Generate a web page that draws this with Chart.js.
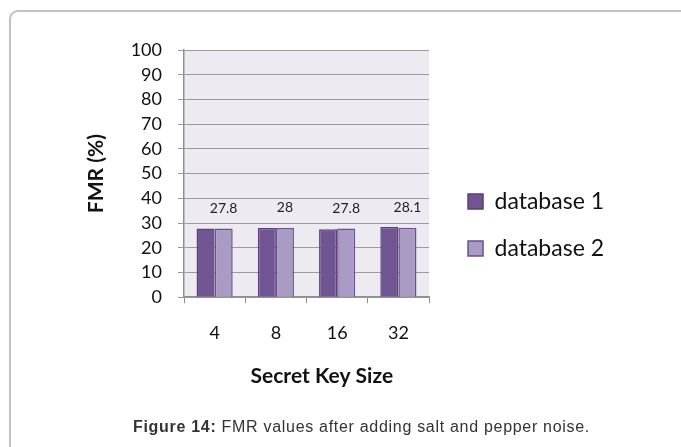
<!DOCTYPE html>
<html>
<head>
<meta charset="utf-8">
<script src="https://cdn.jsdelivr.net/npm/chart.js@4"></script>
<style>
  html, body { margin: 0; padding: 0; background: #fff; }
  #wrap { position: relative; width: 681px; height: 447px; overflow: hidden; }
  #frame {
    position: absolute; left: 9px; top: 10px; width: 700px; height: 470px;
    border: 2px solid #c2c2c2; border-radius: 9px; box-sizing: border-box;
  }
  #chart { position: absolute; left: 0; top: 0; }
  #caption {
    position: absolute; left: 21px; width: 681px; top: 418px; text-align: center;
    font-family: "Liberation Sans", Arial, sans-serif; font-size: 16px; color: #333;
    letter-spacing: 0.7px;
  }
</style>
</head>
<body>
<div id="wrap">
  <div id="frame"></div>
  <canvas id="chart" width="681" height="447"></canvas>
  <div id="caption"><b>Figure 14:</b> FMR values after adding salt and pepper noise.</div>
</div>
<script>
// Key sizes on the x axis
const keySizes = ['4', '8', '16', '32'];
// FMR (%) per key size
const database1 = [27.8, 28.0, 27.5, 28.4];
const database2 = [27.8, 28.0, 27.8, 28.1];
// y axis range and step
const yMin = 0, yMax = 100, yStep = 10;

const FONT = 'Lato, "Open Sans", sans-serif';

// light lavender fill behind the plot area
const plotBackground = {
  id: 'plotBackground',
  beforeDraw(chart) {
    const {ctx, chartArea: a} = chart;
    ctx.save();
    ctx.fillStyle = '#edebf1';
    ctx.fillRect(a.left, a.top, a.right - a.left, a.bottom - a.top);
    ctx.restore();
  }
};

// value labels above the database 2 bars
const valueLabels = {
  id: 'valueLabels',
  afterDatasetsDraw(chart) {
    const {ctx} = chart;
    const meta = chart.getDatasetMeta(1);
    const data = chart.data.datasets[1].data;
    ctx.save();
    ctx.font = '14px ' + FONT;
    ctx.fillStyle = '#222';
    ctx.textAlign = 'center';
    ctx.textBaseline = 'middle';
    meta.data.forEach((bar, i) => {
      ctx.fillText(String(data[i]), bar.x, bar.y - 20);
    });
    ctx.restore();
  }
};

new Chart(document.getElementById('chart'), {
  type: 'bar',
  data: {
    labels: keySizes,
    datasets: [
      {
        label: 'database 1',
        data: database1,
        backgroundColor: '#715593',
        borderColor: '#5a3f7b',
        borderWidth: 1.5
      },
      {
        label: 'database 2',
        data: database2,
        backgroundColor: '#a99bc3',
        borderColor: '#6a508e',
        borderWidth: 1.5
      }
    ]
  },
  options: {
    responsive: false,
    animation: false,
    layout: { padding: { top: 50, bottom: 47, left: 63, right: 67 } },
    datasets: { bar: { categoryPercentage: 0.59, barPercentage: 1.0 } },
    scales: {
      x: {
        grid: { drawOnChartArea: false, drawTicks: true, tickLength: 6, color: '#8f8f8f', offset: true },
        border: { display: true, color: '#8f8f8f', width: 1.5 },
        ticks: { color: '#111', font: { family: FONT, size: 18 }, padding: 19 },
        title: {
          display: true, text: '      Secret Key Size', color: '#111',
          font: { family: FONT, size: 21, weight: 'bold' },
          padding: { top: 1, bottom: 11 }
        }
      },
      y: {
        min: yMin, max: yMax,
        grid: { color: '#9b9b9b', tickLength: 6, lineWidth: 1 },
        border: { display: true, color: '#8f8f8f', width: 1.5 },
        ticks: { stepSize: yStep, autoSkip: false, color: '#111', font: { family: FONT, size: 18 }, padding: 16 },
        title: {
          display: true, text: 'FMR (%)', color: '#111',
          font: { family: FONT, size: 21, weight: 'bold' },
          padding: { top: 21, bottom: 21 }
        },
        afterFit(s) { s.width = 121; }
      },
      gap: {
        type: 'linear', position: 'right', display: true,
        grid: { display: false }, border: { display: false },
        ticks: { display: false }, title: { display: false },
        afterFit(s) { s.width = 15; }
      }
    },
    plugins: {
      legend: {
        position: 'right',
        maxWidth: 240,
        labels: {
          color: '#111',
          font: { family: FONT, size: 23 },
          boxWidth: 15, boxHeight: 15, padding: 24
        }
      },
      tooltip: { enabled: false }
    }
  },
  plugins: [plotBackground, valueLabels]
});
</script>
</body>
</html>
